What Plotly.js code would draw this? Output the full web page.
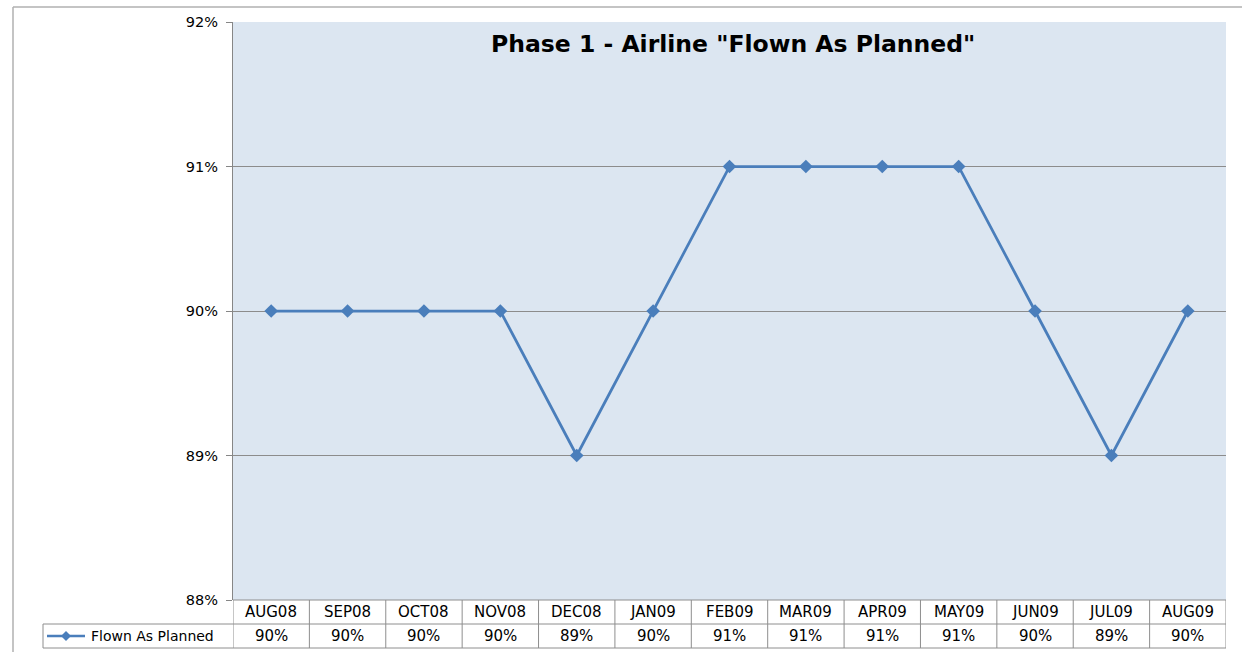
<!DOCTYPE html>
<html>
<head>
<meta charset="utf-8">
<script src="https://cdn.plot.ly/plotly-3.0.1.min.js"></script>
<style>html,body{margin:0;padding:0;background:#fff;}#chart{width:1242px;height:652px;}</style>
</head>
<body>
<div id="chart"></div>
<script>
var months = ["AUG08","SEP08","OCT08","NOV08","DEC08","JAN09","FEB09","MAR09","APR09","MAY09","JUN09","JUL09","AUG09"];
var flownAsPlanned = [90,90,90,90,89,90,91,91,91,91,90,89,90];
var seriesName = "Flown As Planned";
var chartTitle = 'Phase 1 - Airline "Flown As Planned"';
var yTicks = [88,89,90,91,92];

var W = 1242, H = 652, L = 233, R = 16, T = 22, B = 52;
var pw = W - L - R, ph = H - T - B;
function px2x(px){ return (px - L) / pw; }
function py2y(py){ return (H - B - py) / ph; }

var row1 = py2y(624), row2 = py2y(648);
var legLeft = px2x(43);
var borderCol = "#8e8e8e";
var font = "DejaVu Sans, sans-serif";
var lineCol = "#4a7ebb";

var shapes = [];
var annotations = [];
// outer chart border
shapes.push({type:"line", xref:"paper", yref:"paper", x0:px2x(13), x1:px2x(1242), y0:py2y(7), y1:py2y(7), line:{color:"#b0b0b0", width:1.5}});
shapes.push({type:"line", xref:"paper", yref:"paper", x0:px2x(13), x1:px2x(13), y0:py2y(7), y1:py2y(652), line:{color:"#b0b0b0", width:1.5}});
// table grid
shapes.push({type:"line", xref:"x", yref:"paper", x0:-0.5, x1:months.length-0.5, y0:0, y1:0, line:{color:borderCol, width:1}});
shapes.push({type:"line", xref:"paper", yref:"paper", x0:legLeft, x1:1, y0:row1, y1:row1, line:{color:borderCol, width:1}});
shapes.push({type:"line", xref:"paper", yref:"paper", x0:legLeft, x1:1, y0:row2, y1:row2, line:{color:borderCol, width:1}});
shapes.push({type:"line", xref:"paper", yref:"paper", x0:legLeft, x1:legLeft, y0:row1, y1:row2, line:{color:borderCol, width:1}});
for (var i = 0; i <= months.length; i++) {
  shapes.push({type:"line", xref:"x", yref:"paper", x0:i-0.5, x1:i-0.5, y0:0, y1:row2, line:{color:borderCol, width:1}});
}
// legend key (line + diamond)
var legY = (row1 + row2) / 2;
shapes.push({type:"line", xref:"paper", yref:"paper", x0:px2x(47), x1:px2x(85), y0:legY, y1:legY, line:{color:lineCol, width:2.5}});
shapes.push({type:"path", xref:"paper", yref:"paper", xsizemode:"pixel", ysizemode:"pixel", xanchor:px2x(66), yanchor:legY, path:"M0,5 L5,0 L0,-5 L-5,0 Z", fillcolor:lineCol, line:{color:lineCol, width:0}});
annotations.push({xref:"paper", yref:"paper", x:px2x(89), y:legY, text:seriesName, showarrow:false, xanchor:"left", yanchor:"middle", font:{family:font, size:14, color:"#000"}});

months.forEach(function(m, i){
  annotations.push({xref:"x", yref:"paper", x:i, y:(0+row1)/2, text:m, showarrow:false, xanchor:"center", yanchor:"middle", font:{family:font, size:15, color:"#000"}});
  annotations.push({xref:"x", yref:"paper", x:i, y:(row1+row2)/2, text:flownAsPlanned[i]+"%", showarrow:false, xanchor:"center", yanchor:"middle", font:{family:font, size:15, color:"#000"}});
});
annotations.push({xref:"paper", yref:"paper", x:px2x(733), y:py2y(44), text:"<b>"+chartTitle+"</b>", showarrow:false, xanchor:"center", yanchor:"middle", font:{family:font, size:23.5, color:"#000"}});

var trace = {
  x: months, y: flownAsPlanned, type:"scatter", mode:"lines+markers", name: seriesName,
  line:{color:lineCol, width:2.75},
  marker:{symbol:"diamond", size:10.5, color:lineCol},
  cliponaxis:false
};

var layout = {
  width: W, height: H,
  margin:{l:L, r:R, t:T, b:B, pad:0},
  paper_bgcolor:"#fff",
  plot_bgcolor:"#dce6f1",
  showlegend:false,
  xaxis:{type:"category", range:[-0.5, months.length-0.5], showticklabels:false, showgrid:false, zeroline:false, showline:false, ticks:"", fixedrange:true},
  yaxis:{range:[88,92], tickvals:yTicks, ticktext:yTicks.map(function(v){return v+"%";}), showgrid:true, gridcolor:"#8c8c8c", gridwidth:1, zeroline:false, showline:true, linecolor:"#868686", linewidth:1, ticks:"outside", ticklen:6, tickcolor:"#868686", ticklabelstandoff:5, tickfont:{family:font, size:14.5, color:"#000"}, mirror:false},
  shapes: shapes,
  annotations: annotations
};

Plotly.newPlot("chart", [trace], layout, {displayModeBar:false, staticPlot:true});
</script>
</body>
</html>
